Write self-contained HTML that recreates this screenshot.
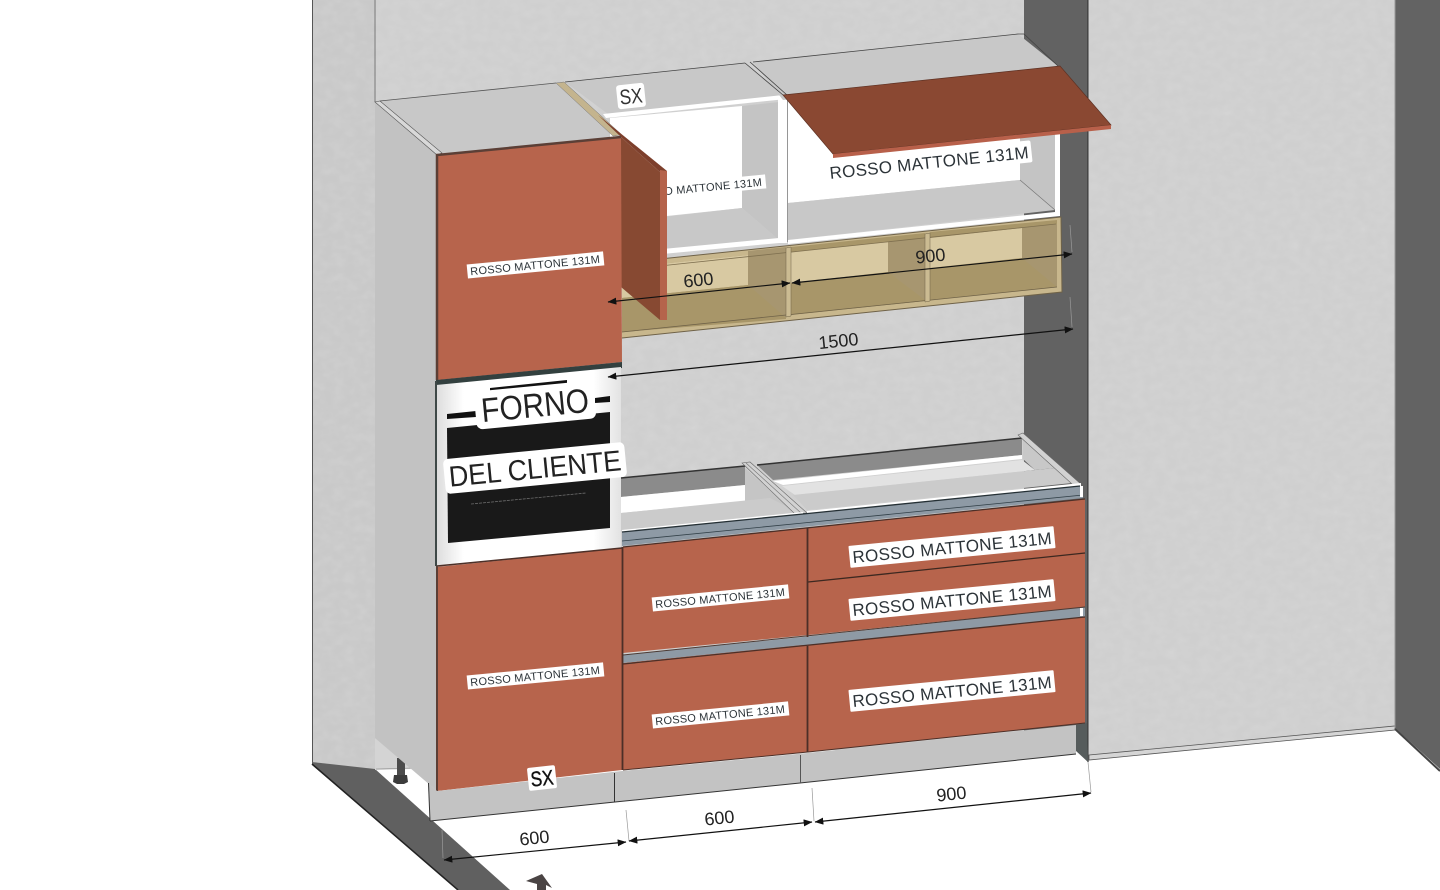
<!DOCTYPE html>
<html lang="it">
<head>
<meta charset="utf-8">
<title>Cucina</title>
<style>
html,body{margin:0;padding:0;background:#fff;width:1440px;height:890px;overflow:hidden}
svg{display:block}
text{font-family:"Liberation Sans",sans-serif}
.d{font-size:18px;fill:#222;text-anchor:middle}
.l{fill:#2c3338;text-anchor:middle}
.dim{stroke:#111;stroke-width:1.2;fill:none}
.w{stroke:#999;stroke-width:.7;fill:none}
.e{stroke:#444;stroke-width:.8;fill:none}
</style>
</head>
<body>
<svg width="1440" height="890" viewBox="0 0 1440 890" xmlns="http://www.w3.org/2000/svg">
<defs>
<marker id="a" viewBox="0 0 10 8" refX="9.5" refY="4" markerWidth="9" markerHeight="7" orient="auto-start-reverse" markerUnits="userSpaceOnUse"><path d="M0 0L10 4L0 8Z" fill="#111"/></marker>
<linearGradient id="ov" x1="0" x2="1" y1="0" y2="0"><stop offset="0" stop-color="#dcdcdc"/><stop offset=".15" stop-color="#fff"/><stop offset=".85" stop-color="#fff"/><stop offset="1" stop-color="#e2e2e2"/></linearGradient>
<filter id="n" x="0" y="0" width="100%" height="100%">
<feTurbulence type="fractalNoise" baseFrequency=".09 .12" numOctaves="2" seed="4" result="t"/>
<feColorMatrix in="t" type="matrix" values="0 0 0 0 1  0 0 0 0 1  0 0 0 0 1  .16 0 0 0 -.05" result="g"/>
<feComposite in="g" in2="SourceAlpha" operator="in" result="c"/>
<feMerge><feMergeNode in="SourceGraphic"/><feMergeNode in="c"/></feMerge>
</filter>
</defs>

<!-- walls -->
<rect width="1440" height="890" fill="#fff"/>
<g filter="url(#n)">
<polygon points="312,0 376,0 376,770 312,762" fill="#c9c9c9"/>
<polygon points="376,0 1026,0 1026,750 430,750 430,769 376,769" fill="#cfcfcf"/>
<polygon points="1089,0 1395,0 1395,726 1089,755" fill="#cfcfcf"/>
</g>
<line x1="312.500" y1="0" x2="312.500" y2="763" stroke="#555" stroke-width="1"/>
<polygon points="1024,0 1088,0 1088,762 1076,750 1024,750" fill="#626262"/>
<line x1="1088" y1="0" x2="1088" y2="762" stroke="#333" stroke-width="1.200"/>
<line x1="375" y1="0" x2="375" y2="102" stroke="#7c7c7c" stroke-width="1"/>
<polygon points="1089,755 1395,726 1395,730 1089,760" fill="#d5d5d5" stroke="#555" stroke-width=".8"/>
<polygon points="1395,0 1440,0 1440,769 1395,728" fill="#636363"/>
<line x1="1395" y1="0" x2="1395" y2="728" stroke="#999" stroke-width="1"/>
<line x1="1395" y1="729" x2="1440" y2="771" stroke="#444" stroke-width="2"/>

<!-- floor under the tall unit: white -->
<polygon points="376,769 430,769 430,830 376,830" fill="#fff"/>

<!-- floor strip -->
<polygon points="312,762 375,769 510,890 458,890 312,765" fill="#606060"/>
<line x1="312" y1="764" x2="458" y2="890" stroke="#222" stroke-width="1.500"/>
<polygon points="526,881 542,874 552,888 546,885 546,890 537,890 537,884" fill="#4a4444"/>

<!-- foot -->
<polygon points="375,738 411,769 375,770" fill="#d4d4d4"/>
<line x1="376" y1="769" x2="415" y2="768" stroke="#999" stroke-width=".8"/>
<rect x="397" y="758" width="8" height="18" fill="#4c4c4c"/>
<polygon points="394,775 407,775 408,782 404,784 397,784 393,782" fill="#3c3c3c"/>

<!-- tall cabinet side/top -->
<polygon points="375,102 437,155 437,791 375,738" fill="#c2c2c2"/>
<polygon points="375,102 556,83 622,138 437,155" fill="#c8c8c8"/>
<polygon points="375,102 380,101 442,153 437,155" fill="#d8d8d8" stroke="#555" stroke-width=".6"/>
<line x1="380" y1="101" x2="556" y2="83" stroke="#555" stroke-width=".8"/>

<!-- upper cabinet 1 -->
<polygon points="565,82 745,63 785,97 608,114" fill="#c8c8c8"/>
<polyline class="e" points="565,82 745,63"/>
<polygon points="603,114 783,95 786,99 606,118" fill="#fff"/>
<polygon points="610,118 742,106 742,208 610,222" fill="#fff"/>
<polygon points="742,106 779,102 779,240 742,208" fill="#c4c4c4"/>
<polygon points="620,222 742,208 779,240 620,257" fill="#c8c8c8"/>
<polygon points="620,253 779,238 779,243 620,258" fill="#fff"/>
<rect x="778" y="97" width="9" height="146" fill="#fff"/>
<line x1="787.500" y1="100" x2="787.500" y2="242" stroke="#888" stroke-width=".8"/>

<!-- upper cabinet 2 -->
<polygon points="753,62 1018,34 1058,66 1058,70 783,100" fill="#c8c8c8"/>
<polyline class="e" points="753,62 1018,34 1024,34 1058,66"/>
<polyline class="e" points="745,63 783,95"/>
<polyline class="e" points="750,62 787,95"/>
<polygon points="788,100 1020,90 1020,180 788,203" fill="#fff"/>
<polygon points="1020,90 1055,90 1055,210 1020,180" fill="#c4c4c4"/>
<polygon points="788,203 1020,180 1055,210 788,240" fill="#c8c8c8"/>
<polyline points="1020,180 1055,210" stroke="#777" stroke-width=".7" fill="none"/>
<polygon points="788,240 1055,212 1060,212 1060,216 788,244" fill="#fff"/>
<rect x="1055" y="125" width="5" height="90" fill="#fff"/>

<!-- small label behind door -->
<g transform="translate(697,188) rotate(-5.500)"><rect x="-68" y="-7" width="137" height="14" fill="#fff"/><text class="l" y="4" font-size="11" textLength="130" lengthAdjust="spacing">ROSSO MATTONE 131M</text></g>

<!-- wood shelf -->
<polygon points="622,263 1061,217 1062,292 622,338" fill="#c8b78d"/>
<polygon points="622,268 786,251 786,319 622,332" fill="#a79569"/>
<polygon points="622,268 748,255 748,285 622,298" fill="#d8c9a2"/>
<polygon points="748,251 786,247 786,318 748,285" fill="#a79670"/>
<polygon points="622,298 748,285 786,318 622,332" fill="#a89669"/>
<polygon points="791,247 925,233 925,301 791,315" fill="#a89669"/>
<polygon points="791,252 888,242 888,272 791,283" fill="#d8c9a2"/>
<polygon points="888,242 925,238 925,300 888,272" fill="#a79670"/>
<polygon points="930,232 1057,220 1057,287 930,300" fill="#a89669"/>
<polygon points="930,238 1022,228 1022,258 930,268" fill="#d8c9a2"/>
<polygon points="1022,228 1057,224 1057,287 1022,258" fill="#a79670"/>
<polyline points="622,263 1061,217 1062,292 622,338" fill="none" stroke="#6f6248" stroke-width="1"/>
<polyline points="622,270 1056,224" fill="none" stroke="#7f7050" stroke-width=".8"/>
<polyline points="622,332 1057,287" fill="none" stroke="#6f6248" stroke-width=".8"/>
<polygon points="786,248 791,247 791,316 786,317" fill="#cbbb92" stroke="#6f6248" stroke-width=".5"/>
<polygon points="925,234 930,233 930,301 925,302" fill="#cbbb92" stroke="#6f6248" stroke-width=".5"/>

<!-- flap -->
<polygon points="783,95 1060,66 1111,125 833,154" fill="#8a4832" stroke="#5e3224" stroke-width=".7"/>
<polygon points="833,154 1111,125 1111,129 833,158" fill="#b8604a"/>

<!-- flap label -->
<g transform="translate(929,162) rotate(-6)"><rect x="-103" y="-11" width="206" height="22" rx="2" fill="#fff"/><text class="l" y="6.500" font-size="17" textLength="200" lengthAdjust="spacing">ROSSO MATTONE 131M</text></g>

<!-- open door -->
<polygon points="556,83 564,82 622,135 613,136" fill="#c4b48e" stroke="#777" stroke-width=".5"/>
<polygon points="598,115 667,171 660,172 621,137" fill="#7d3f2c"/>
<polygon points="621,137 660,172 660,320 621,287" fill="#874932"/>
<polygon points="660,170 667,171 667,320 660,320" fill="#b5634b"/>

<!-- tall door -->
<polygon points="437,155 621,137 622,362 437,380" fill="#b7644c"/>
<polyline points="437,380 437,155 621,137" fill="none" stroke="#5b3f36" stroke-width="2.500"/>

<!-- oven -->
<polygon points="436,380 622,362 622,368 436,386" fill="#33403f"/>
<polygon points="436,385 621,367 621,548 436,566" fill="url(#ov)"/>
<polygon points="490,388 567,380 567,384 490,392" fill="#111"/>
<polygon points="595,398 610,396 610,402 595,403" fill="#111"/>
<polygon points="447,414 476,411 476,417 447,419" fill="#111"/>
<polygon points="447,428 610,412 610,528 448,543" fill="#191919"/>
<polyline points="471,504 586,493" fill="none" stroke="#6c6c6c" stroke-width=".8" stroke-dasharray="3 1"/>
<line x1="436" y1="381" x2="436" y2="566" stroke="#3e4847" stroke-width="2"/>
<g transform="translate(535,405) rotate(-5.500)"><rect x="-60" y="-19" width="120" height="38" rx="6" fill="#fff"/><text y="12" font-size="34" fill="#222" text-anchor="middle" textLength="108" lengthAdjust="spacingAndGlyphs">FORNO</text></g>
<g transform="translate(535,468) rotate(-5.500)"><rect x="-91" y="-17.500" width="182" height="35" rx="5" fill="#fff"/><text y="10.500" font-size="29" fill="#222" text-anchor="middle" textLength="173" lengthAdjust="spacingAndGlyphs">DEL CLIENTE</text></g>

<!-- worktop left -->
<polygon points="621,478 745,466 745,485 621,497" fill="#8b8b8b"/>
<line x1="621" y1="478" x2="745" y2="466" stroke="#333" stroke-width="1.500"/>
<polygon points="621,497 745,485 745,501 621,513" fill="#fff"/>
<polygon points="745,468 795,513 745,502" fill="#c5c5c5"/>
<polygon points="621,513 770,498 797,512 621,530" fill="#cbcbcb"/>
<polygon points="742,463 750,462 807,513 795,514" fill="#d2d2d2" stroke="#666" stroke-width=".6"/>
<line x1="746" y1="463" x2="801" y2="513" stroke="#777" stroke-width=".6"/>
<polygon points="622,530 803,512 803,515 622,533" fill="#fff"/>
<polygon points="622,532 803,514 803,527 622,546" fill="#8e9aa5"/>
<polyline points="622,532 803,514" fill="none" stroke="#253035" stroke-width="1.300"/>
<polyline points="622,541 803,523" fill="none" stroke="#324048" stroke-width=".8"/>

<!-- worktop right -->
<polygon points="757,465 1022,438 1022,455 773,480" fill="#8b8b8b"/>
<line x1="757" y1="465" x2="1022" y2="438" stroke="#333" stroke-width="1.500"/>
<polygon points="773,481 1022,455 1022,459 783,485" fill="#fff"/>
<polygon points="782,486 1022,460 1035,470 795,495" fill="#e2e2e2"/>
<polygon points="793,495 1055,468 1072,483 807,510" fill="#cbcbcb"/>
<polygon points="1023,438 1055,468 1035,470 1023,459" fill="#c8c8c8"/>
<polygon points="1018,435 1023,433 1082,485 1072,484" fill="#d2d2d2" stroke="#666" stroke-width=".6"/>
<polygon points="807,511 1081,483 1081,486 807,514" fill="#fff"/>
<polygon points="803,514 1083,486 1083,498 803,527" fill="#8e9aa5"/>
<polyline points="803,514 1080,486" fill="none" stroke="#253035" stroke-width="1.300"/>
<polyline points="803,523 1083,495" fill="none" stroke="#324048" stroke-width=".8"/>
<rect x="1080" y="486" width="3" height="11" fill="#fff"/>

<!-- lower doors -->
<polygon points="437,567 622,548 622,770 437,791" fill="#b7644c"/>
<polyline points="437,566 622,548" fill="none" stroke="#4c2f27" stroke-width="1.500"/>
<line x1="437" y1="566" x2="437" y2="791" stroke="#5b3f36" stroke-width="2"/>
<polygon points="623,547 808,528 808,635 623,653" fill="#b7644c"/>
<polygon points="623,663 808,644 808,752 623,770" fill="#b7644c"/>
<polygon points="623,655 803,637 803,645 623,663" fill="#8e9aa5"/>
<polygon points="808,528 1085,499 1085,553 808,582" fill="#b7644c"/>
<polygon points="808,582 1085,553 1085,607 808,635" fill="#b7644c"/>
<polygon points="808,645 1085,616 1085,723 808,752" fill="#b7644c"/>
<polygon points="803,637 1085,607 1085,617 803,646" fill="#8e9aa5"/>
<polyline points="623,655 1085,607" fill="none" stroke="#4b3a34" stroke-width="1"/>
<polyline points="623,664 1085,617" fill="none" stroke="#4c2f27" stroke-width="1.300"/>
<rect x="1080" y="608" width="3" height="8" fill="#fff"/>
<polyline points="623,547 1085,499" fill="none" stroke="#4c2f27" stroke-width="1.300"/>
<line x1="808" y1="582" x2="1085" y2="553" stroke="#3c2820" stroke-width="1.300"/>
<line x1="622.500" y1="547" x2="622.500" y2="770" stroke="#4c2f27" stroke-width="1.800"/>
<line x1="807.500" y1="528" x2="807.500" y2="637" stroke="#4c2f27" stroke-width="1.800"/>
<line x1="807.500" y1="646" x2="807.500" y2="752" stroke="#4c2f27" stroke-width="1.800"/>
<polyline points="623,770 808,752 1085,723" fill="none" stroke="#4c2f27" stroke-width="1"/>

<!-- plinth -->
<polygon points="428,783 437,791 622,771 807,753 1076,725 1076,754 800,783 615,802 430,821" fill="#c3c3c3"/>
<polyline points="430,821 615,802 800,783 1076,754" fill="none" stroke="#333" stroke-width="1"/>
<line x1="428.500" y1="783" x2="430" y2="821" stroke="#333" stroke-width="1"/>
<line x1="614.500" y1="773" x2="614.500" y2="802" stroke="#333" stroke-width="1"/>
<line x1="800.500" y1="755" x2="800.500" y2="783" stroke="#555" stroke-width="1"/>
<polygon points="1076,725 1087,723 1088,762 1076,751" fill="#565c5c"/>

<!-- small labels -->
<g transform="translate(535,265) rotate(-5.500)"><rect x="-68" y="-7" width="137" height="14" fill="#fff"/><text class="l" y="4" font-size="11" textLength="130" lengthAdjust="spacing">ROSSO MATTONE 131M</text></g>
<g transform="translate(535,676) rotate(-5.500)"><rect x="-68" y="-7" width="137" height="14" fill="#fff"/><text class="l" y="4" font-size="11" textLength="130" lengthAdjust="spacing">ROSSO MATTONE 131M</text></g>
<g transform="translate(720,598) rotate(-5.500)"><rect x="-68" y="-7" width="137" height="14" fill="#fff"/><text class="l" y="4" font-size="11" textLength="130" lengthAdjust="spacing">ROSSO MATTONE 131M</text></g>
<g transform="translate(720,715) rotate(-5.500)"><rect x="-68" y="-7" width="137" height="14" fill="#fff"/><text class="l" y="4" font-size="11" textLength="130" lengthAdjust="spacing">ROSSO MATTONE 131M</text></g>

<!-- big labels -->
<g transform="translate(952,547) rotate(-5.500)"><rect x="-103" y="-11" width="206" height="22" rx="1" fill="#fff"/><text class="l" y="6.500" font-size="17" textLength="200" lengthAdjust="spacing">ROSSO MATTONE 131M</text></g>
<g transform="translate(952,600) rotate(-5.500)"><rect x="-103" y="-11" width="206" height="22" rx="1" fill="#fff"/><text class="l" y="6.500" font-size="17" textLength="200" lengthAdjust="spacing">ROSSO MATTONE 131M</text></g>
<g transform="translate(952,691) rotate(-5.500)"><rect x="-103" y="-11" width="206" height="22" rx="1" fill="#fff"/><text class="l" y="6.500" font-size="17" textLength="200" lengthAdjust="spacing">ROSSO MATTONE 131M</text></g>

<!-- SX labels -->
<g transform="translate(631,96) rotate(-6)"><rect x="-14" y="-12" width="28" height="24" rx="3" fill="#fff"/><text y="7.500" font-size="21" fill="#333" text-anchor="middle" textLength="23" lengthAdjust="spacingAndGlyphs">SX</text></g>
<g transform="translate(542,778) rotate(-6)"><rect x="-14" y="-11.500" width="28" height="23" rx="2" fill="#fff"/><text y="7.500" font-size="21" fill="#111" stroke="#111" stroke-width=".4" text-anchor="middle" textLength="23" lengthAdjust="spacingAndGlyphs">SX</text></g>

<!-- dimensions upper -->
<line class="w" x1="1070" y1="225" x2="1072" y2="252"/>
<line class="w" x1="1070" y1="297" x2="1072" y2="327"/>
<line class="dim" x1="608" y1="302" x2="790" y2="283" marker-start="url(#a)" marker-end="url(#a)"/>
<line class="dim" x1="792" y1="283" x2="1072" y2="254" marker-start="url(#a)" marker-end="url(#a)"/>
<line class="dim" x1="608" y1="377" x2="1073" y2="329" marker-start="url(#a)" marker-end="url(#a)"/>
<text class="d" transform="translate(699,286) rotate(-6)">600</text>
<text class="d" transform="translate(931,262) rotate(-6)">900</text>
<text class="d" transform="translate(839,347) rotate(-6)">1500</text>

<!-- dimensions lower -->
<line class="w" x1="626" y1="810" x2="629" y2="841"/>
<line class="w" x1="812" y1="788" x2="814" y2="821"/>
<line class="w" x1="1088" y1="762" x2="1091" y2="792"/>
<line class="w" x1="442" y1="830" x2="443" y2="858"/>
<line class="dim" x1="444" y1="860" x2="626" y2="842" marker-start="url(#a)" marker-end="url(#a)"/>
<line class="dim" x1="629" y1="841" x2="812" y2="822" marker-start="url(#a)" marker-end="url(#a)"/>
<line class="dim" x1="815" y1="822" x2="1091" y2="793" marker-start="url(#a)" marker-end="url(#a)"/>
<text class="d" transform="translate(535,844) rotate(-6)">600</text>
<text class="d" transform="translate(720,824) rotate(-6)">600</text>
<text class="d" transform="translate(952,800) rotate(-6)">900</text>
</svg>
</body>
</html>
